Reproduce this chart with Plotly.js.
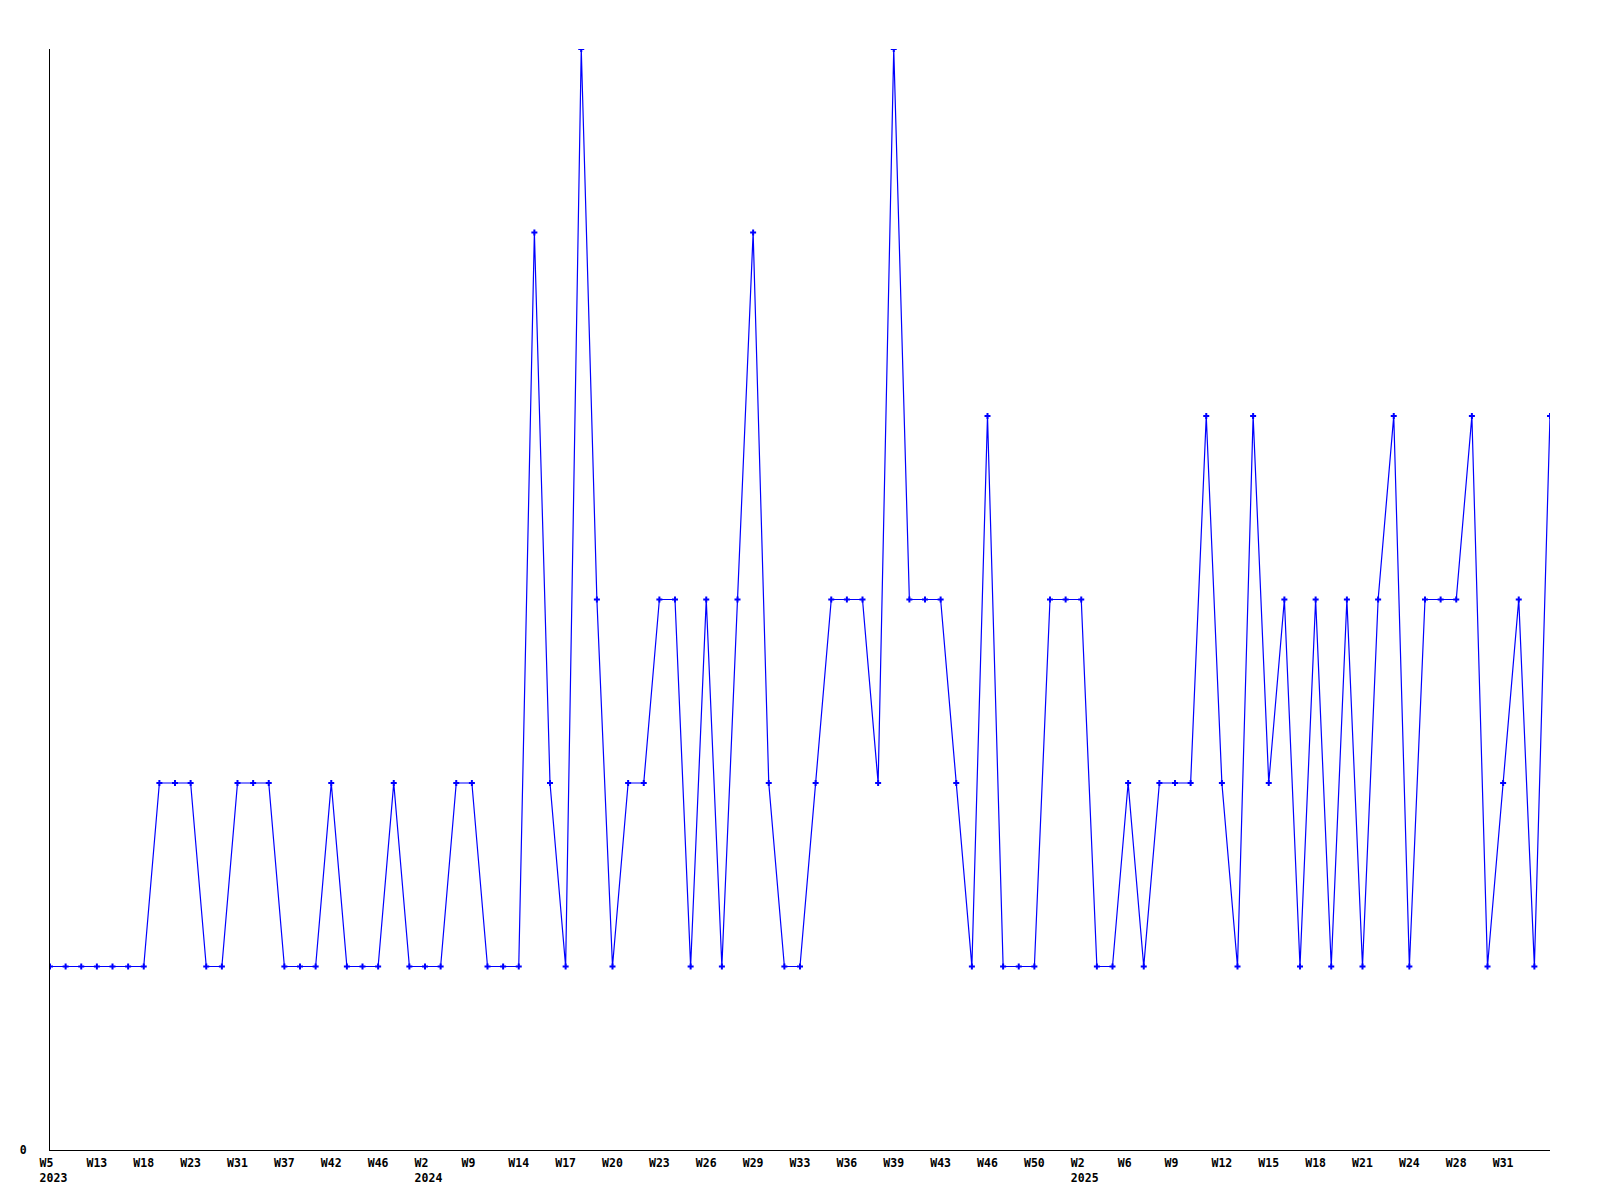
<!DOCTYPE html>
<html>
<head>
<meta charset="utf-8">
<script src="https://cdn.plot.ly/plotly-3.0.1.min.js"></script>
<style>html,body{margin:0;padding:0;background:#fff;}#chart{width:1600px;height:1200px;}</style>
</head>
<body>
<div id="chart"></div>
<script>
// Weekly values (97 consecutive data weeks, 2023 W5 .. 2025 ~W34)
const values = [
  1,1,1,1,1,1,1,2,2,2,
  1,1,2,2,2,1,1,1,2,1,
  1,1,2,1,1,1,2,2,1,1,
  1,5,2,1,6,3,1,2,2,3,
  3,1,3,1,3,5,2,1,1,2,
  3,3,3,2,6,3,3,3,2,1,
  4,1,1,1,3,3,3,1,1,2,
  1,2,2,2,4,2,1,4,2,3,
  1,3,1,3,1,3,4,1,3,3,
  3,4,1,2,3,1,4
];
// Tick labels shown every 3rd point (week, and year at the first week of each year)
const tickWeeks = [
  "W5","W13","W18","W23","W31","W37","W42","W46",
  "W2","W9","W14","W17","W20","W23","W26","W29","W33","W36","W39","W43","W46","W50",
  "W2","W6","W9","W12","W15","W18","W21","W24","W28","W31"
];
const tickYears = {0: "2023", 8: "2024", 22: "2025"};
const tickStep = 3;

const NB = "\u00a0";
// labels are left-aligned about 1.5 characters left of their point, as in the original
function padTo(s, n) { while (s.length < n) s += NB; return s; }
const tickText = tickWeeks.map((w, i) => {
  if (tickYears[i] !== undefined) {
    return NB + padTo(w, 4) + "<br>" + NB + tickYears[i];
  }
  return padTo(w, 3);
});

const xs = values.map((v, i) => i);
const tickVals = tickWeeks.map((t, i) => i * tickStep);

const tickFont = {family: "DejaVu Sans Mono", size: 11.5, color: "#000", weight: "bold"};

const trace = {
  x: xs,
  y: values,
  type: "scatter",
  mode: "lines+markers",
  line: {color: "#0000ff", width: 1.2},
  marker: {color: "#0000ff", symbol: "cross", size: 5, line: {width: 0}},
  hoverinfo: "none"
};

const layout = {
  width: 1600,
  height: 1200,
  margin: {l: 50, r: 50, t: 49, b: 50, pad: 0},
  paper_bgcolor: "#fff",
  plot_bgcolor: "#fff",
  showlegend: false,
  font: {family: "DejaVu Sans Mono", size: 11, color: "#000"},
  xaxis: {
    range: [0, values.length - 1],
    tickmode: "array",
    tickvals: tickVals,
    ticktext: tickText,
    tickangle: 0,
    showgrid: false,
    zeroline: false,
    showline: true,
    linecolor: "#000",
    linewidth: 1,
    ticks: "",
    tickfont: tickFont,
    ticklabelstandoff: 2
  },
  yaxis: {
    range: [0, 6],
    tickmode: "array",
    tickvals: [0],
    ticktext: ["0"],
    showgrid: false,
    zeroline: false,
    showline: true,
    linecolor: "#000",
    linewidth: 1,
    ticks: "",
    tickfont: tickFont,
    ticklabelstandoff: 20
  }
};

Plotly.newPlot("chart", [trace], layout, {staticPlot: true, displayModeBar: false});
</script>
</body>
</html>
